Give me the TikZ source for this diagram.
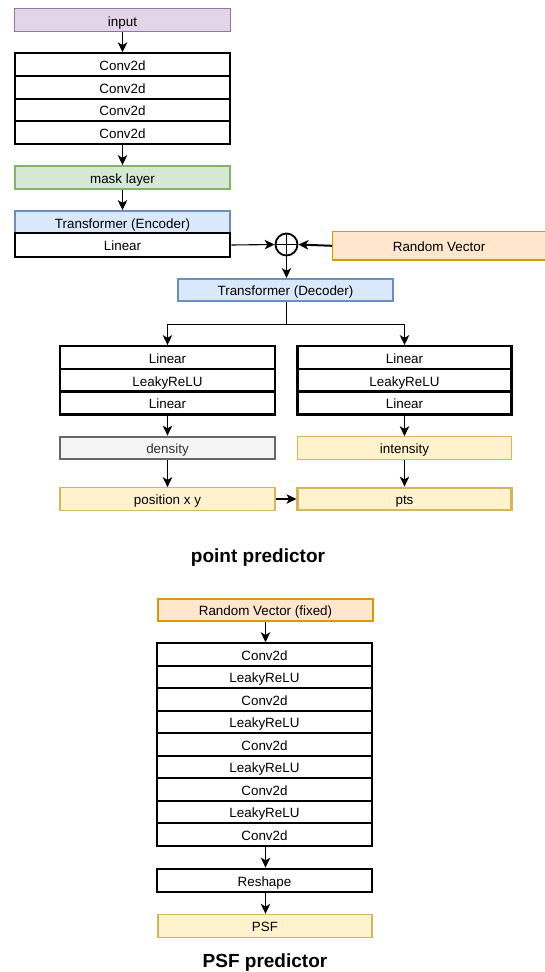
\documentclass[tikz,border=0pt]{standalone}
\usepackage{fontspec}
\setmainfont{Liberation Sans}
\usetikzlibrary{arrows.meta}

\definecolor{inpfill}{HTML}{E1D5E7}
\definecolor{inpline}{HTML}{9673A6}
\definecolor{maskfill}{HTML}{D5E8D4}
\definecolor{maskline}{HTML}{82B366}
\definecolor{trfill}{HTML}{DAE8FC}
\definecolor{trline}{HTML}{6C8EBF}
\definecolor{rvfill}{HTML}{FFE6CC}
\definecolor{rvline}{HTML}{D79B00}
\definecolor{outfill}{HTML}{FFF2CC}
\definecolor{outline}{HTML}{D6B656}
\definecolor{grayfill}{HTML}{F5F5F5}
\definecolor{grayline}{HTML}{666666}
\definecolor{graytext}{HTML}{333333}

\tikzset{
  box/.style={rectangle, inner sep=0pt, anchor=center,
    text height=12.2pt, text depth=0.4pt,
    font=\fontsize{13.4}{16}\selectfont},
  layer/.style={box, draw=black, fill=white, line width=2.2pt},
  inbox/.style={box, draw=inpline, fill=inpfill, line width=1.1pt},
  maskbox/.style={box, draw=maskline, fill=maskfill, line width=2pt},
  trbox/.style={box, draw=trline, fill=trfill, line width=2pt},
  rvbox/.style={box, draw=rvline, fill=rvfill, line width=1.1pt},
  outbox/.style={box, draw=outline, fill=outfill, line width=1.1pt},
  outboxthick/.style={box, draw=outline, fill=outfill, line width=2.2pt},
  graybox/.style={box, draw=grayline, fill=grayfill, line width=2.2pt, text=graytext},
  arr/.style={draw=black, line width=1.1pt,
    -{Stealth[length=10pt,width=9.5pt,inset=2.8pt]}},
  title/.style={font=\fontsize{19}{22}\selectfont\bfseries, inner sep=0pt}
}

\begin{document}
\begin{tikzpicture}[x=1pt,y=-1pt]
\useasboundingbox[fill=white] (0,0) rectangle (544,972);

% ---------------- point predictor ----------------
\node[inbox, minimum width=215.4pt, minimum height=23pt] (inp) at (122.5,20.3) {input};

\node[layer, minimum width=215.4pt, minimum height=22.7pt] (c1) at (122.5,64.7) {Conv2d};
\node[layer, minimum width=215.4pt, minimum height=22.7pt] (c2) at (122.5,87.3) {Conv2d};
\node[layer, minimum width=215.4pt, minimum height=22.7pt] (c3) at (122.5,110) {Conv2d};
\node[layer, minimum width=215.4pt, minimum height=22.7pt] (c4) at (122.5,132.7) {Conv2d};

\node[maskbox, minimum width=215.4pt, minimum height=23.3pt] (mask) at (122.5,177.7) {mask layer};

\node[trbox, minimum width=215.4pt, minimum height=22.3pt] (enc) at (122.5,222.2) {Transformer (Encoder)};
\node[layer, minimum width=215.4pt, minimum height=23.3pt] (lin0) at (122.5,245) {Linear};

\node[rvbox, minimum width=214pt, minimum height=28.3pt, anchor=west] (rv) at (332,245.8) {\hspace*{-1pt}Random Vector};

\node[circle, draw=black, line width=1.8pt, fill=white, minimum size=22pt, inner sep=0pt] (sum) at (286.5,244.5) {};
\draw[line width=1.8pt] (sum.north) -- (sum.south) (sum.west) -- (sum.east);

\node[trbox, minimum width=215pt, minimum height=22pt] (dec) at (285.5,290) {Transformer (Decoder)};

\node[layer, minimum width=215pt, minimum height=22.9pt] (l1) at (167.5,357.6) {Linear};
\node[layer, minimum width=215pt, minimum height=22.9pt] (l2) at (167.5,380.3) {LeakyReLU};
\node[layer, minimum width=215pt, minimum height=22.9pt] (l3) at (167.5,403) {Linear};

\node[layer, minimum width=214pt, minimum height=22.9pt] (r1) at (404.5,357.6) {Linear};
\node[layer, minimum width=214pt, minimum height=22.9pt] (r2) at (404.5,380.3) {LeakyReLU};
\node[layer, minimum width=214pt, minimum height=22.9pt] (r3) at (404.5,403) {Linear};

\node[graybox, minimum width=215pt, minimum height=22.6pt] (dens) at (167.5,448) {density};
\node[outbox, minimum width=214pt, minimum height=22.6pt] (inten) at (404.5,448) {intensity};

\node[outbox, minimum width=215pt, minimum height=22.6pt] (pos) at (167.5,499) {position x y};
\node[outboxthick, minimum width=214pt, minimum height=22.6pt] (pts) at (404.5,499) {pts};

\node[title] (t1) at (258,558) {point predictor};

\coordinate (split) at (286.5,324.5);

\draw[arr] (inp) -- (c1);
\draw[arr] (c4) -- (mask);
\draw[arr] (mask) -- (enc);
\draw[arr] (lin0.east) -- (sum.west);
\draw[arr, line width=2pt] (rv.west) -- (sum.east);
\draw[arr] (sum.south) -- (sum.south |- dec.north);
\draw[line width=1.1pt] (sum.south |- dec.south) -- (split);
\draw[arr] (split) -| (l1.north);
\draw[arr] (split) -| (r1.north);
\draw[arr] (l3) -- (dens);
\draw[arr] (r3) -- (inten);
\draw[arr] (dens) -- (pos);
\draw[arr] (inten) -- (pts);
\draw[arr] (pos) -- (pts);

% ---------------- PSF predictor ----------------
\node[rvbox, minimum width=215pt, minimum height=22pt] (rvf) at (265.5,610) {Random Vector (fixed)};

\node[layer, minimum width=214.4pt, minimum height=22.5pt] (p1) at (264.5,654.55) {Conv2d};
\node[layer, minimum width=214.4pt, minimum height=22.5pt] (p2) at (264.5,677.05) {LeakyReLU};
\node[layer, minimum width=214.4pt, minimum height=22.5pt] (p3) at (264.5,699.55) {Conv2d};
\node[layer, minimum width=214.4pt, minimum height=22.5pt] (p4) at (264.5,722.05) {LeakyReLU};
\node[layer, minimum width=214.4pt, minimum height=22.5pt] (p5) at (264.5,744.55) {Conv2d};
\node[layer, minimum width=214.4pt, minimum height=22.5pt] (p6) at (264.5,767.05) {LeakyReLU};
\node[layer, minimum width=214.4pt, minimum height=22.5pt] (p7) at (264.5,789.55) {Conv2d};
\node[layer, minimum width=214.4pt, minimum height=22.5pt] (p8) at (264.5,812.05) {LeakyReLU};
\node[layer, minimum width=214.4pt, minimum height=22.5pt] (p9) at (264.5,834.55) {Conv2d};

\node[layer, minimum width=214.4pt, minimum height=23pt] (resh) at (264.5,880.2) {Reshape};
\node[outbox, minimum width=214pt, minimum height=22.7pt] (psf) at (265,925.7) {PSF};

\node[title] (t2) at (265,962.7) {PSF predictor};

\draw[arr] (rvf) -- (rvf |- p1.north);
\draw[arr] (p9.south -| rvf) -- (rvf |- resh.north);
\draw[arr] (resh.south -| rvf) -- (rvf |- psf.north);
\end{tikzpicture}
\end{document}
